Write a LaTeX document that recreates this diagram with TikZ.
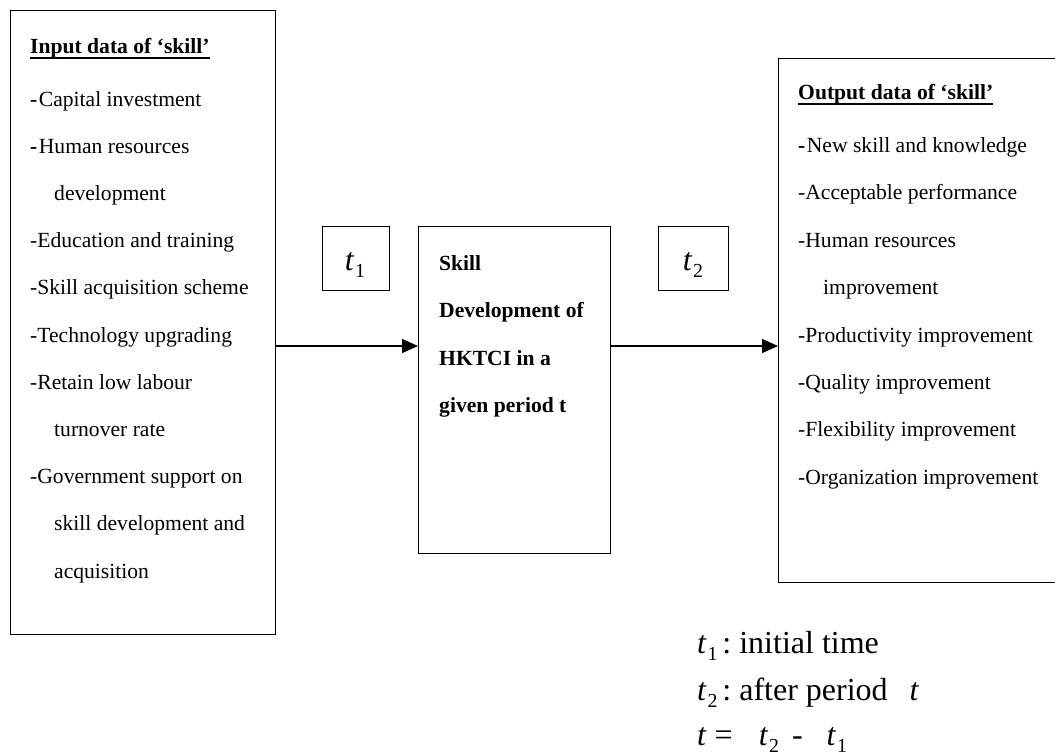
\documentclass[tikz,border=0pt]{standalone}
\usepackage{fontspec}
\usepackage{graphicx}
\setmainfont{Liberation Serif}
\usetikzlibrary{arrows.meta}

% italic t with a small upright index
\newcommand\tsub[1]{\textit{t}\kern0.8pt\raisebox{-0.22em}{\scalebox{0.62}{#1}}}
% heavier leading dash of some list items
\newcommand\hvdash{\textbf{-}\kern1.5pt}

\tikzset{
  frame/.style={draw, line width=1.4pt, inner sep=0pt, anchor=north west},
  itemtxt/.style={anchor=base west, inner sep=0pt, font=\fontsize{21.6}{25}\selectfont},
  headtxt/.style={anchor=base west, inner sep=0pt, font=\fontsize{21.6}{25}\selectfont\bfseries},
  bigtxt/.style={anchor=base west, inner sep=0pt, font=\fontsize{32}{38}\selectfont},
  flow/.style={line width=1.4pt, -{Triangle[length=16pt,width=14pt]}},
  uline/.style={line width=2pt},
}

\begin{document}
\begin{tikzpicture}[x=1pt,y=-1pt]
\clip (0,0) rectangle (1055,755);
\fill[white] (0,0) rectangle (1055,755);

% boxes
\node[frame, minimum width=265pt, minimum height=624pt] (inbox) at (9.5,10) {};
\node[frame, minimum width=67pt, minimum height=64pt] (tone) at (322,226) {};
\node[frame, minimum width=192pt, minimum height=327pt] (core) at (418,226) {};
\node[frame, minimum width=70pt, minimum height=64pt] (ttwo) at (658,226) {};
\node[frame, minimum width=300pt, minimum height=524pt] (outbox) at (778,58) {};

% time labels in the small boxes
\node[anchor=base, inner sep=0pt, font=\fontsize{32}{36}\selectfont] (tonelbl) at (355,270) {\tsub{1}};
\node[anchor=base, inner sep=0pt, font=\fontsize{32}{36}\selectfont] (ttwolbl) at (693,270) {\tsub{2}};

% flow arrows
\coordinate (lvl) at (0,346);
\draw[flow] (inbox.east |- lvl) -- (core.west |- lvl);
\draw[flow] (core.east |- lvl) -- (outbox.west |- lvl);

% input list
\node[headtxt] (inhead) at (30,53) {Input data of ‘skill’};
\draw[uline] ([yshift=-4.5pt]inhead.base west) -- ([yshift=-4.5pt]inhead.base east);
\node[itemtxt] (in1) at (30,106) {\hvdash Capital investment};
\node[itemtxt] (in2) at (30,153.2) {\hvdash Human resources};
\node[itemtxt] (in3) at (54,200.4) {development};
\node[itemtxt] (in4) at (30,247.6) {-Education and training};
\node[itemtxt] (in5) at (30,294.8) {-Skill acquisition scheme};
\node[itemtxt] (in6) at (30,342) {-Technology upgrading};
\node[itemtxt] (in7) at (30,389.2) {-Retain low labour};
\node[itemtxt] (in8) at (54,436.4) {turnover rate};
\node[itemtxt] (in9) at (30,483.6) {-Government support on};
\node[itemtxt] (in10) at (54,530.8) {skill development and};
\node[itemtxt] (in11) at (54,578) {acquisition};

% central process
\node[headtxt] (c1) at (439,270) {Skill};
\node[headtxt] (c2) at (439,317.5) {Development of};
\node[headtxt] (c3) at (439,365) {HKTCI in a};
\node[headtxt] (c4) at (439,412.5) {given period t};

% output list
\node[headtxt] (outhead) at (798,99) {Output data of ‘skill’};
\draw[uline] ([yshift=-4.5pt]outhead.base west) -- ([yshift=-4.5pt]outhead.base east);
\node[itemtxt] (out1) at (798,152.5) {\hvdash New skill and knowledge};
\node[itemtxt] (out2) at (798,199.9) {-Acceptable performance};
\node[itemtxt] (out3) at (798,247.3) {-Human resources};
\node[itemtxt] (out4) at (823,294.7) {improvement};
\node[itemtxt] (out5) at (798,342.1) {-Productivity improvement};
\node[itemtxt] (out6) at (798,389.5) {-Quality improvement};
\node[itemtxt] (out7) at (798,436.9) {-Flexibility improvement};
\node[itemtxt] (out8) at (798,484.3) {-Organization improvement};

% legend
\node[bigtxt] (lg1) at (697,653) {\tsub{1}\hspace{5pt}:\hspace{8pt}initial time};
\node[bigtxt] (lg2) at (697,700) {\tsub{2}\hspace{5pt}:\hspace{8pt}after period\hspace{22pt}\textit{t}};
\node[bigtxt] (lg3) at (697,745) {\textit{t}\hspace{8pt}=\hspace{26pt}\tsub{2}\hspace{13pt}-\hspace{24pt}\tsub{1}};
\end{tikzpicture}
\end{document}
